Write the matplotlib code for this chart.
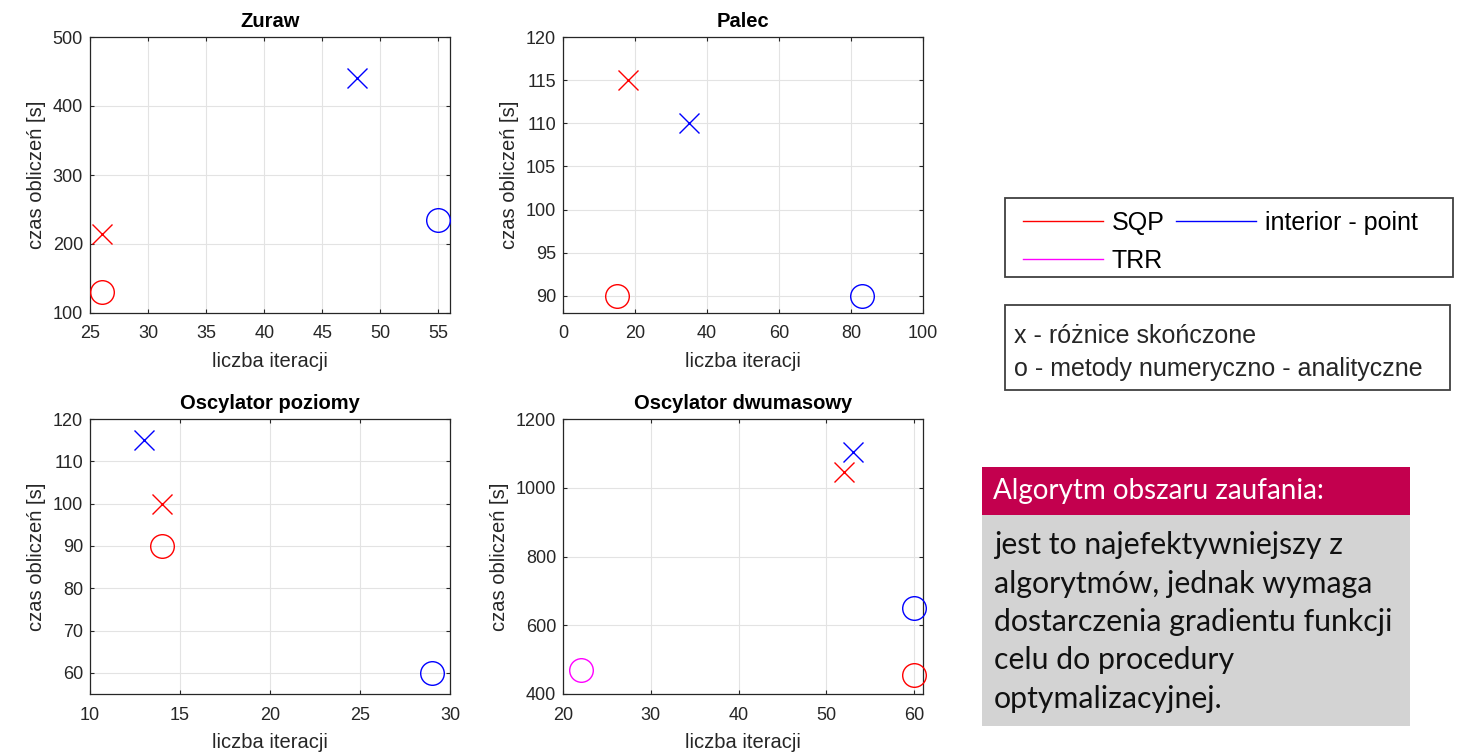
import matplotlib
matplotlib.use('Agg')
import matplotlib.pyplot as plt
from matplotlib.lines import Line2D
from matplotlib.patches import Rectangle

W, H = 1458, 756

# Data
titles = ['Zuraw', 'Palec', 'Oscylator poziomy', 'Oscylator dwumasowy']
sqp_fd_iter = [26, 18, 14, 52]
sqp_fd_time = [215, 115, 100, 1045]
sqp_an_iter = [26, 15, 14, 60]
sqp_an_time = [130, 90, 90, 455]
ip_fd_iter = [48, 35, 13, 53]
ip_fd_time = [440, 110, 115, 1105]
ip_an_iter = [55, 83, 29, 60]
ip_an_time = [235, 90, 60, 650]
trr_an_iter = [None, None, None, 22]
trr_an_time = [None, None, None, 470]

xlims = [(25, 56), (0, 100), (10, 30), (20, 61)]
ylims = [(100, 500), (88, 120), (55, 120), (400, 1200)]
xticks = [range(25, 56, 5), range(0, 101, 20), range(10, 31, 5), range(20, 61, 10)]
yticks = [range(100, 501, 100), range(90, 121, 5), range(60, 121, 10), range(400, 1201, 200)]

legend_labels = ['SQP', 'TRR', 'interior - point']
legend_colors = ['#ff0000', '#ff00ff', '#0000ff']
note_lines = ['x - różnice skończone', 'o - metody numeryczno - analityczne']
box_title = 'Algorytm obszaru zaufania:'
box_lines = ['jest to najefektywniejszy z', 'algorytmów, jednak wymaga',
             'dostarczenia gradientu funkcji', 'celu do procedury',
             'optymalizacyjnej.']

plt.rcParams['font.family'] = ['Liberation Sans', 'DejaVu Sans']
dark = '#262626'


def fx(x):
    return x / W


def fy(y):
    return 1 - y / H


fig = plt.figure(figsize=(W / 100, H / 100), dpi=100)

# axes boxes in pixels: left, top, right, bottom
boxes = [(90, 37, 450, 313), (563, 37, 923, 313),
         (90, 419, 450, 694), (563, 419, 923, 694)]

series = [
    (sqp_fd_iter, sqp_fd_time, 'x', '#ff0000'),
    (sqp_an_iter, sqp_an_time, 'o', '#ff0000'),
    (ip_fd_iter, ip_fd_time, 'x', '#0000ff'),
    (ip_an_iter, ip_an_time, 'o', '#0000ff'),
    (trr_an_iter, trr_an_time, 'o', '#ff00ff'),
]

for i, (l, t, r, b) in enumerate(boxes):
    ax = fig.add_axes([fx(l), fy(b), fx(r) - fx(l), fy(t) - fy(b)])
    for xs, ys, m, c in series:
        if xs[i] is None:
            continue
        ms = 14.5 if m == 'x' else 17
        ax.plot([xs[i]], [ys[i]], linestyle='none', marker=m, markersize=ms,
                markerfacecolor='none', markeredgecolor=c, markeredgewidth=1.0,
                clip_on=False, zorder=5)
    ax.set_xlim(*xlims[i])
    ax.set_ylim(*ylims[i])
    ax.set_xticks(list(xticks[i]))
    ax.set_yticks(list(yticks[i]))
    ax.grid(True, color='#e3e3e3', linewidth=0.8)
    ax.set_axisbelow(True)
    ax.tick_params(direction='in', length=2.8, width=0.8, colors=dark,
                   labelsize=13, top=True, right=True)
    ax.tick_params(axis='x', pad=9)
    ax.tick_params(axis='y', pad=5)
    for s in ax.spines.values():
        s.set_color(dark)
        s.set_linewidth(0.9)
    ax.set_title(titles[i], fontsize=14.5, fontweight='bold', pad=7)
    ax.set_xlabel('liczba iteracji', fontsize=14.5, color=dark, labelpad=7)
    ax.set_ylabel('czas obliczeń [s]', fontsize=14.5, color=dark, labelpad=5)

# Legend for the methods
handles = [Line2D([], [], color=c, linewidth=1.0) for c in legend_colors]
fig.legend(handles, legend_labels, ncol=2, frameon=False, fontsize=18,
           loc='upper left', bbox_to_anchor=(fx(1023), fy(211)),
           borderaxespad=0, borderpad=0, handlelength=3.2, handletextpad=0.35,
           columnspacing=0.45, labelspacing=0.55)
fig.add_artist(Rectangle((fx(1005), fy(277)), fx(1453) - fx(1005), fy(198) - fy(277),
                         transform=fig.transFigure, facecolor='none',
                         edgecolor='#404040', linewidth=1.3))

# Box describing the markers
fig.add_artist(Rectangle((fx(1005), fy(390)), fx(1450) - fx(1005), fy(305) - fy(390),
                         transform=fig.transFigure, facecolor='none',
                         edgecolor='#404040', linewidth=1.3))
for k, line in enumerate(note_lines):
    fig.text(fx(1014), fy(336 + 33 * k), line, fontsize=18, color=dark,
             va='center', ha='left')

# Callout box
fig.add_artist(Rectangle((fx(982), fy(726)), fx(1410) - fx(982), fy(515) - fy(726),
                         transform=fig.transFigure, facecolor='#d3d3d3',
                         edgecolor='none'))
fig.add_artist(Rectangle((fx(982), fy(515)), fx(1410) - fx(982), fy(467) - fy(515),
                         transform=fig.transFigure, facecolor='#c3004e',
                         edgecolor='none'))
fig.text(fx(993), fy(491), box_title, fontsize=20, color='white',
         va='center', ha='left', family='Lato')
for k, line in enumerate(box_lines):
    fig.text(fx(994), fy(545 + 38.5 * k), line, fontsize=21.8, color='#111111',
             va='center', ha='left', family='Lato')

fig.savefig('out.png', dpi=100)
